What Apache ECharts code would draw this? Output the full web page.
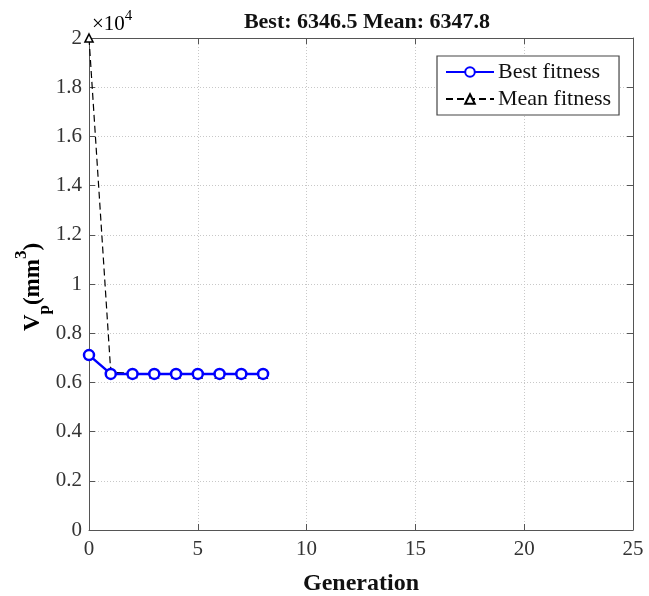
<!DOCTYPE html>
<html>
<head>
<meta charset="utf-8">
<script src="https://cdn.jsdelivr.net/npm/echarts@6/dist/echarts.min.js"></script>
<style>
  html, body { margin: 0; padding: 0; background: #fff; }
  #chart { width: 649px; height: 596px; }
</style>
</head>
<body>
<div id="chart"></div>
<script>
// Generation index and fitness history of the optimiser
var generations = [0, 1, 2, 3, 4, 5, 6, 7, 8];
var bestFitness = [7110, 6346.5, 6346.5, 6346.5, 6346.5, 6346.5, 6346.5, 6346.5, 6346.5];
var meanFitness = [20000, 6420, 6360, 6352, 6349, 6348.5, 6348, 6347.9, 6347.8];
var xTicks = [0, 5, 10, 15, 20, 25];
var yTickStep = 2000;
var yScale = 10000;

var serif = '"Liberation Serif", "DejaVu Serif", serif';
var frameColor = '#555';
var gridColor = '#c8c8c8';

function pairs(ys) {
  return generations.map(function (g, i) { return [g, ys[i]]; });
}

var lastBest = bestFitness[bestFitness.length - 1];
var lastMean = meanFitness[meanFitness.length - 1];

var chart = echarts.init(document.getElementById('chart'), null, { renderer: 'canvas' });

var axisCommon = {
  axisLine: { show: true, onZero: false, lineStyle: { color: frameColor, width: 1 } },
  axisTick: { show: true, inside: true, length: 6, lineStyle: { color: frameColor } }
};

chart.setOption({
  animation: false,
  backgroundColor: '#fff',
  title: {
    text: 'Best: ' + lastBest.toFixed(1) + ' Mean: ' + lastMean.toFixed(1),
    left: 362, top: 6, textAlign: 'center',
    textStyle: { fontFamily: serif, fontSize: 22, fontWeight: 'bold', color: '#111' }
  },
  grid: { left: 89, right: 16, top: 38, bottom: 66, containLabel: false, outerBoundsMode: 'none' },
  legend: {
    orient: 'vertical',
    left: 437, top: 56,
    width: 184,
    padding: [4, 8, 4, 8],
    itemGap: 3,
    itemWidth: 48, itemHeight: 12,
    backgroundColor: '#fff',
    borderColor: '#444', borderWidth: 1.2,
    textStyle: { fontFamily: serif, fontSize: 22, color: '#111', lineHeight: 24, padding: [0, 0, 0, -1] },
    data: ['Best fitness', 'Mean fitness']
  },
  xAxis: [
    Object.assign({
      type: 'value', min: 0, max: 25, interval: 5, position: 'bottom',
      name: 'Generation', nameLocation: 'middle', nameGap: 42,
      nameTextStyle: { fontFamily: serif, fontSize: 24, fontWeight: 'bold', color: '#111' },
      axisLabel: { fontFamily: serif, fontSize: 21, color: '#333', margin: 9,
        formatter: function (v) { return xTicks.indexOf(v) >= 0 ? String(v) : ''; } },
      splitLine: { show: true, lineStyle: { color: gridColor, type: [1, 2], width: 1 } }
    }, axisCommon),
    Object.assign({
      type: 'value', min: 0, max: 25, interval: 5, position: 'top',
      axisLabel: { show: false }, splitLine: { show: false }
    }, axisCommon)
  ],
  yAxis: [
    Object.assign({
      type: 'value', min: 0, max: 20000, interval: yTickStep, position: 'left',
      axisLabel: { fontFamily: serif, fontSize: 21, color: '#333', margin: 7,
        formatter: function (v) { return String(+(v / yScale).toFixed(1)); } },
      splitLine: { show: true, lineStyle: { color: gridColor, type: [1, 2], width: 1 } }
    }, axisCommon),
    Object.assign({
      type: 'value', min: 0, max: 20000, interval: yTickStep, position: 'right',
      axisLabel: { show: false }, splitLine: { show: false }
    }, axisCommon)
  ],
  series: [
    {
      name: 'Mean fitness', type: 'line', data: pairs(meanFitness),
      symbol: 'triangle', symbolSize: 8, showAllSymbol: true,
      lineStyle: { color: '#000', width: 1.2, type: [7, 4] },
      itemStyle: { color: '#fff', borderColor: '#000', borderWidth: 1.6 },
      z: 3
    },
    {
      name: 'Best fitness', type: 'line', data: pairs(bestFitness),
      symbol: 'circle', symbolSize: 10, showAllSymbol: true,
      lineStyle: { color: '#0000ff', width: 2.5 },
      itemStyle: { color: '#fff', borderColor: '#0000ff', borderWidth: 2.5 },
      z: 4
    }
  ],
  graphic: [
    {
      type: 'text', left: 92, top: 9,
      style: {
        text: '{a|×10}{s|4}',
        rich: {
          a: { fontFamily: serif, fontSize: 21, color: '#333', lineHeight: 26, verticalAlign: 'bottom' },
          s: { fontFamily: serif, fontSize: 15, color: '#333', lineHeight: 26, verticalAlign: 'top' }
        }
      }
    },
    {
      type: 'text', x: 33, y: 287, rotation: Math.PI / 2,
      style: {
        text: '{v|V}{sub|p}{v|(mm}{sup|3}{v|)}',
        align: 'center', verticalAlign: 'middle',
        rich: {
          v: { fontFamily: serif, fontSize: 23, fontWeight: 'bold', color: '#1a1a1a', lineHeight: 40, verticalAlign: 'middle' },
          sub: { fontFamily: serif, fontSize: 17, fontWeight: 'bold', color: '#1a1a1a', lineHeight: 40, verticalAlign: 'bottom' },
          sup: { fontFamily: serif, fontSize: 17, fontWeight: 'bold', color: '#1a1a1a', lineHeight: 40, verticalAlign: 'top' }
        }
      }
    }
  ]
});
</script>
</body>
</html>
